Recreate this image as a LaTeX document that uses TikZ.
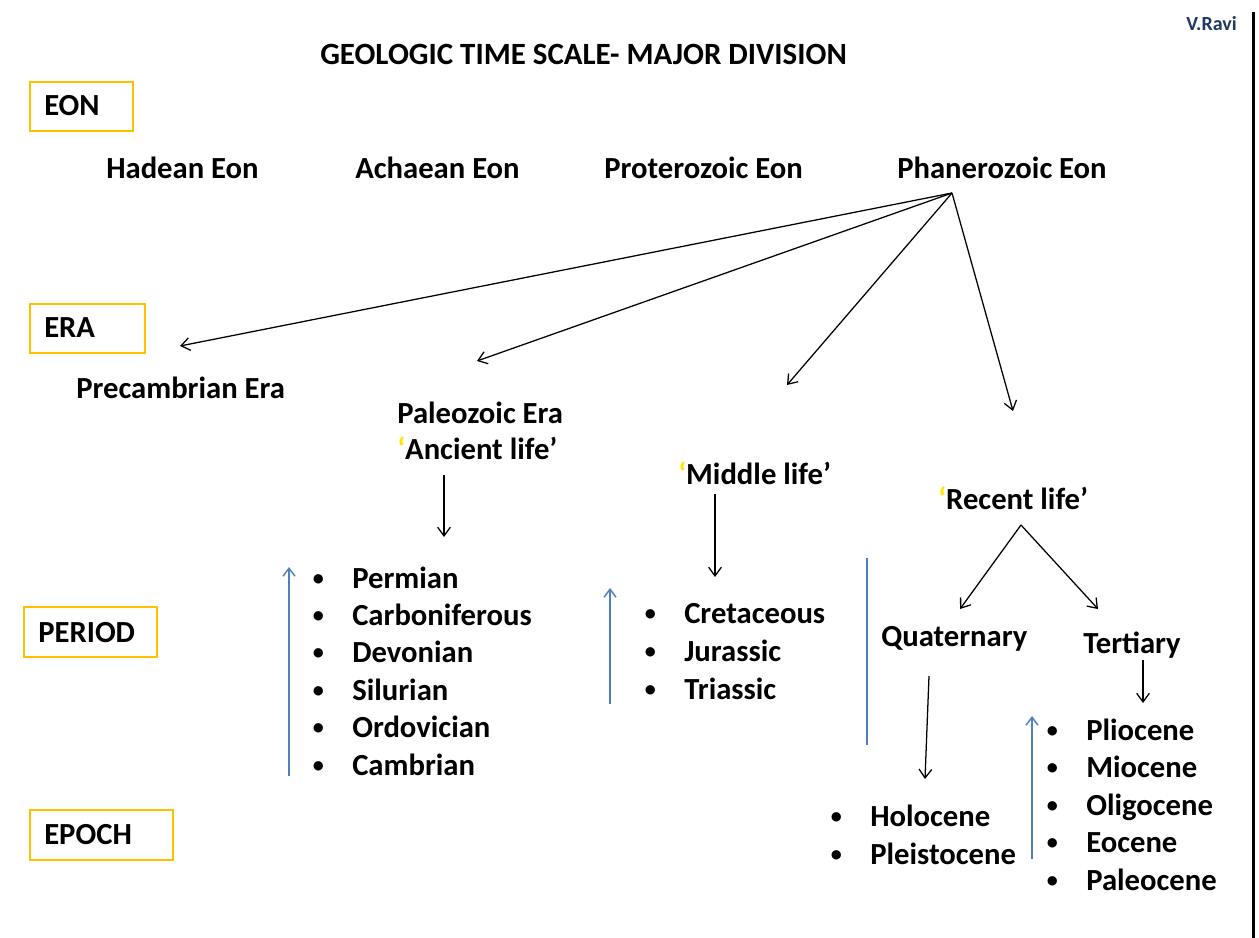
\documentclass[tikz,border=0pt]{standalone}
\usepackage{fontspec}
\setmainfont{Carlito}
\usetikzlibrary{arrows.meta}
\definecolor{boxgold}{HTML}{FFC000}
\definecolor{steel}{HTML}{4F81BD}
\definecolor{quoteyellow}{HTML}{FFE600}
\definecolor{navy}{HTML}{1F3864}
\newcommand{\yq}{\textcolor{quoteyellow}{‘}}
\newcommand{\bul}[1]{\makebox[25.5pt][l]{\hspace{-4pt}\raisebox{0.09em}{\scalebox{0.72}{\textbullet}}}#1}
\begin{document}
\begin{tikzpicture}[x=0.75pt,y=-0.75pt,
  lbl/.style={inner sep=0pt, anchor=base west, font=\bfseries\fontsize{23}{27}\selectfont},
  ttl/.style={inner sep=0pt, anchor=base west, font=\bfseries\fontsize{23.2}{27}\selectfont},
  levelbox/.style={draw=boxgold, line width=1.5pt},
  arr/.style={draw=black, line width=0.95pt, -{Straight Barb[length=6.5pt,width=9.5pt]}},
  bluearr/.style={draw=steel, line width=1.1pt, -{Straight Barb[length=6pt,width=9pt]}},
  blueline/.style={draw=steel, line width=1.1pt}]
\useasboundingbox (0,0) rectangle (1259,938);
\fill[white] (0,0) rectangle (1259,938);
% right border
\draw[line width=2.4pt] (1253.5,12) -- (1253.5,938);
% author
\node[inner sep=0pt, anchor=base west, font=\bfseries\fontsize{15}{17}\selectfont, text=navy] (auth) at (1186,31) {V.Ravi};
% title
\node[ttl] (title) at (320,65) {GEOLOGIC TIME SCALE- MAJOR DIVISION};
% level boxes
\draw[levelbox] (30,82) rectangle (133,131);
\node[lbl] (eon) at (44,116) {EON};
\draw[levelbox] (30,304) rectangle (145,353);
\node[lbl] (era) at (44,337) {ERA};
\draw[levelbox] (24,607) rectangle (157,657);
\node[lbl] (period) at (38,642) {PERIOD};
\draw[levelbox] (30,810) rectangle (173,860);
\node[lbl] (epoch) at (44,844) {EPOCH};
% eons
\node[lbl] (hadean) at (106,179) {Hadean Eon};
\node[lbl] (achaean) at (355,179) {Achaean Eon};
\node[lbl] (protero) at (604,179) {Proterozoic Eon};
\node[lbl] (phanero) at (897,179) {Phanerozoic Eon};
% eras
\node[lbl] (precamb) at (76,398) {Precambrian Era};
\node[lbl] (paleo) at (397,423) {Paleozoic Era};
\node[lbl] (ancient) at (397,459) {\yq Ancient life’};
\node[lbl] (middle) at (678,484) {\yq Middle life’};
\node[lbl] (recent) at (938,509) {\yq Recent life’};
% periods
\node[lbl] (perm) at (318,588) {\bul{Permian}};
\node[lbl] (carb) at (318,625) {\bul{Carboniferous}};
\node[lbl] (devo) at (318,662) {\bul{Devonian}};
\node[lbl] (silu) at (318,700) {\bul{Silurian}};
\node[lbl] (ordo) at (318,737) {\bul{Ordovician}};
\node[lbl] (camb) at (318,775) {\bul{Cambrian}};
\node[lbl] (creta) at (650,623) {\bul{Cretaceous}};
\node[lbl] (jura) at (650,661) {\bul{Jurassic}};
\node[lbl] (tria) at (650,699) {\bul{Triassic}};
\node[lbl] (quat) at (881,646) {Quaternary};
\node[lbl] (tert) at (1083,653) {Tertiary};
% epochs
\node[lbl] (holo) at (836,826) {\bul{Holocene}};
\node[lbl] (pleis) at (836,864) {\bul{Pleistocene}};
\node[lbl] (plio) at (1052,740) {\bul{Pliocene}};
\node[lbl] (mio) at (1052,777) {\bul{Miocene}};
\node[lbl] (oligo) at (1052,815) {\bul{Oligocene}};
\node[lbl] (eoc) at (1052,852) {\bul{Eocene}};
\node[lbl] (paleoc) at (1052,890) {\bul{Paleocene}};
% connector coordinates
\coordinate (apex) at (952,193);
\coordinate (tPre) at (180,346);
\coordinate (tPal) at (477,361);
\coordinate (tMes) at (787,385);
\coordinate (tCen) at (1013,411);
\coordinate (aS) at (444,475);
\coordinate (aE) at (444,537);
\coordinate (mS) at (715,494);
\coordinate (mE) at (715,577);
\coordinate (rApex) at (1021,525);
\coordinate (qE) at (960,609);
\coordinate (tE) at (1098,609);
\coordinate (qS) at (929,676);
\coordinate (qEnd) at (925,779);
\coordinate (teS) at (1143,660);
\coordinate (teE) at (1143,703);
% black arrows
\draw[arr] (apex) -- (tPre);
\draw[arr] (apex) -- (tPal);
\draw[arr] (apex) -- (tMes);
\draw[arr] (apex) -- (tCen);
\draw[arr] (aS) -- (aE);
\draw[arr] (mS) -- (mE);
\draw[arr] (rApex) -- (qE);
\draw[arr] (rApex) -- (tE);
\draw[arr] (qS) -- (qEnd);
\draw[arr] (teS) -- (teE);
% blue arrows
\coordinate (b1S) at (289,776);
\coordinate (b1E) at (289,567);
\coordinate (b2S) at (610,704);
\coordinate (b2E) at (610,588);
\coordinate (b3S) at (867,558);
\coordinate (b3E) at (867,745);
\coordinate (b4S) at (1032,859);
\coordinate (b4E) at (1032,716);
\draw[bluearr] (b1S) -- (b1E);
\draw[bluearr] (b2S) -- (b2E);
\draw[blueline] (b3S) -- (b3E);
\draw[bluearr] (b4S) -- (b4E);
\end{tikzpicture}
\end{document}
